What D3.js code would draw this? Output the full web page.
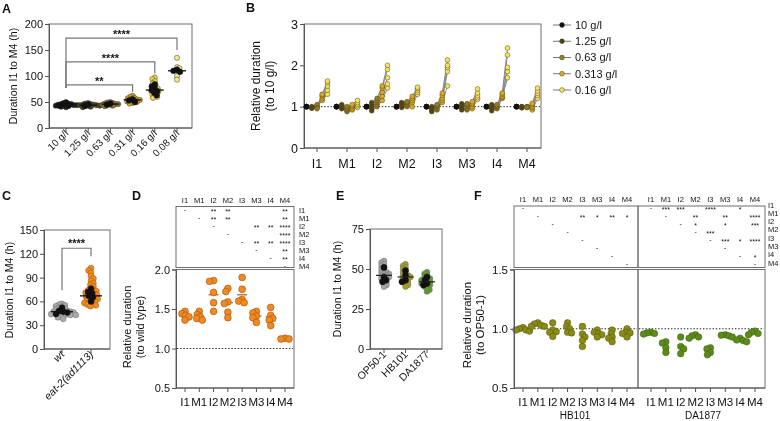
<!DOCTYPE html>
<html><head><meta charset="utf-8">
<script src="https://cdn.jsdelivr.net/npm/d3@7/dist/d3.min.js"></script>
<style>
html,body{margin:0;padding:0;background:#fff;}
svg{opacity:0.999;will-change:transform;}
svg text{font-family:"Liberation Sans",Arial,Helvetica,sans-serif;fill:#111;-webkit-font-smoothing:antialiased;}
</style></head><body>
<svg id="fig" width="780" height="421"></svg>
<script>
// ================= DATA =================
// Panel A
const concA = ["10 g/l","1.25 g/l","0.63 g/l","0.31 g/l","0.16 g/l","0.08 g/l"];
const durA = [
  [40,41,42,43,43,44,44,45,45,46,46,47,48,50],
  [40,41,42,43,43,44,44,45,45,46,47,48],
  [42,43,44,45,45,46,46,47,48,49,50],
  [47,48,50,51,52,53,54,55,56,57,58,60,62],
  [58,60,62,64,66,68,70,71,72,74,76,78,80,83,86,90,94,97],
  [93,100,108,112,115,117,135]
];
const repA = [[43,44,46,48],[43,45],[45,47],[50,53,55],[63,68,71,73,76,80,84],[108,110,112]];
const medA = [45,44,46,54,73,110];
const sigA = [["0.08 g/l","****"],["0.16 g/l","****"],["0.31 g/l","**"]];

// Panel B
const stages = ["I1","M1","I2","M2","I3","M3","I4","M4"];
const concB = ["10 g/l","1.25 g/l","0.63 g/l","0.313 g/l","0.16 g/l"];
const relB = [
  [[1,0.97,1.00,1.15,1.30],[1,0.98,1.02,1.20,1.40],[1,1.00,1.05,1.25,1.50],[1,0.96,0.97,1.28,1.58],[1,0.99,0.95,1.30,1.62]],
  [[1,1.05,0.88,0.92,0.98],[1,1.00,0.90,0.95,1.02],[1,0.97,0.93,1.00,1.06],[1,0.95,0.97,1.02,1.10],[1,1.02,1.00,1.05,1.15]],
  [[1,0.90,1.00,1.15,1.45],[1,0.95,1.05,1.25,1.55],[1,1.00,1.10,1.35,1.70],[1,1.05,1.15,1.45,1.90],[1,1.10,1.20,1.50,2.00]],
  [[1,0.98,1.00,1.00,1.30],[1,1.02,1.03,1.10,1.35],[1,1.05,1.07,1.15,1.40],[1,1.08,1.10,1.20,1.44],[1,1.10,1.12,1.25,1.47]],
  [[1,0.88,0.92,1.10,1.50],[1,0.92,0.95,1.15,1.85],[1,0.95,1.00,1.20,1.95],[1,0.98,1.02,1.27,2.00],[1,1.00,1.05,1.33,2.13]],
  [[1,0.92,0.92,0.95,1.18],[1,0.96,0.95,1.00,1.22],[1,1.00,1.00,1.05,1.27],[1,1.03,1.04,1.08,1.33],[1,1.07,1.07,1.12,1.43]],
  [[1,0.90,0.95,1.20,1.70],[1,0.95,0.98,1.22,1.85],[1,0.98,1.00,1.25,1.95],[1,1.00,1.03,1.30,2.25],[1,1.05,1.05,1.33,2.42]],
  [[1,0.97,0.98,0.92,1.20],[1,0.98,0.99,0.97,1.27],[1,0.99,1.00,1.00,1.32],[1,1.00,1.00,1.05,1.38],[1,1.00,0.98,1.08,1.45]]
];

// Panel C
const strainsC = ["wt","eat-2(ad1113)"];
const durC = [
  [38,40,41,42,43,43,44,44,45,45,46,46,47,47,48,48,49,50,51,52,53,54,55,56,57],
  [54,55,56,57,58,59,60,61,62,63,64,65,66,67,68,69,70,71,72,73,74,75,77,79,81,83,86,89,92,96,99,102]
];
const repC = [[44,46,47,48,52],[60,65,67,70,72,76]];
const medC = [47,67];
const sigC = "****";

// Panel D
const relD = [
  [1.36,1.40,1.42,1.44,1.47],
  [1.36,1.38,1.40,1.43,1.47],
  [1.47,1.58,1.71,1.85,1.86],
  [1.39,1.46,1.57,1.59,1.72,1.76],
  [1.58,1.60,1.62,1.75,1.90],
  [1.33,1.39,1.41,1.45,1.47],
  [1.29,1.36,1.38,1.42,1.52],
  [1.12,1.12,1.13]
];
const meanD = [1.41,1.40,1.68,1.58,1.68,1.41,1.40,1.12];
const sigD = [
  ["I1","I1","-"],["I1","I2","**"],["I1","M2","**"],["I1","M4","**"],
  ["M1","M1","-"],["M1","I2","**"],["M1","M2","**"],["M1","M4","**"],
  ["I2","I2","-"],["I2","M3","**"],["I2","I4","**"],["I2","M4","****"],
  ["M2","M2","-"],["M2","M4","****"],
  ["I3","I3","-"],["I3","M3","**"],["I3","I4","**"],["I3","M4","****"],
  ["M3","M3","-"],["M3","M4","**"],
  ["I4","I4","-"],["I4","M4","**"],
  ["M4","M4","-"]
];

// Panel E
const strainsE = ["OP50-1","HB101","DA1877"];
const durE = [
  [39,40,41,42,43,44,44,45,45,46,46,47,47,48,48,49,50,51,52,53,54,55],
  [39,40,41,42,43,44,44,45,45,46,46,47,48,49,50,51,52,53],
  [36,37,38,39,40,40,41,41,42,42,43,43,44,44,45,46,47,48]
];
const repE = [[42,43,45,51],[42,43,46,49],[40,41,43,45]];
const medE = [46,45,42];

// Panel F
const groupsF = ["HB101","DA1877"];
const relF_HB101 = [
  [1.01,1.00,0.99,0.98,0.99],
  [1.05,1.04,1.03,1.02,1.02],
  [1.05,0.99,0.975,0.97,0.935],
  [1.05,1.02,1.00,0.97,0.965],
  [1.02,0.955,0.93,0.90,0.85],
  [0.99,0.97,0.96,0.95,0.93],
  [0.99,0.96,0.93,0.92,0.89],
  [1.00,0.97,0.965,0.96,0.93]
];
const relF_DA1877 = [
  [0.97,0.965,0.96,0.955],
  [0.89,0.88,0.84,0.80],
  [0.93,0.85,0.83,0.79],
  [0.95,0.94,0.93,0.92],
  [0.84,0.83,0.80,0.78],
  [0.95,0.945,0.94,0.93],
  [0.92,0.905,0.90,0.89],
  [0.98,0.97,0.96,0.95]
];
const sigF_HB101 = [
  ["I1","I1","-"],
  ["M1","M1","-"],["M1","I3","**"],["M1","M3","*"],["M1","I4","**"],["M1","M4","*"],
  ["I2","I2","-"],["M2","M2","-"],["I3","I3","-"],["M3","M3","-"],["I4","I4","-"],["M4","M4","-"]
];
const sigF_DA1877 = [
  ["I1","I1","-"],["I1","M1","***"],["I1","I2","***"],["I1","I3","****"],["I1","I4","*"],
  ["M1","M1","-"],["M1","M2","**"],["M1","M3","**"],["M1","M4","****"],
  ["I2","I2","-"],["I2","M2","*"],["I2","M3","*"],["I2","M4","***"],
  ["M2","M2","-"],["M2","I3","***"],
  ["I3","I3","-"],["I3","M3","***"],["I3","I4","*"],["I3","M4","****"],
  ["M3","M3","-"],
  ["I4","I4","-"],["I4","M4","*"],
  ["M4","M4","-"]
];

// ================= STYLE =================
const AX = "#555";
const FR = "#6f6f6f";
const colA = ["#1b1b1b","#4f4418","#8e7b2c","#d9a927","#f1d84a","#f6e98a"];
const colB = ["#111111","#4f4418","#8e7b2c","#d9a927","#f4e266"];
const colC = ["#a9a9a9","#f08a24"];
const colE = ["#a3a3a3","#a39c22","#5c9a28"];
const colF = ["#8c8a16","#5a8c1c"];
const ORANGE = "#f08a24";

const svg = d3.select("#fig");

// ================= HELPERS =================
function swarm(vals, y, cx, sep, step) {
  const pts = vals.map(v => ({v, y: y(v)})).sort((a,b) => a.y - b.y);
  const placed = [];
  pts.forEach((p, i) => {
    let off = 0;
    outer: for (let k = 0; k < 80; k++) {
      const s = (i % 2 === 0) ? 1 : -1;
      const cands = k === 0 ? [0] : [s*k*step, -s*k*step];
      for (const o of cands) {
        if (placed.every(q => (q.x-(cx+o))**2 + (q.y-p.y)**2 >= sep*sep)) { off = o; break outer; }
      }
    }
    p.x = cx + off; placed.push(p);
  });
  return pts;
}
function drawDots(g, pts, r, fill, stroke, sw) {
  g.selectAll(null).data(pts).enter().append("circle")
    .attr("cx", d => d.x).attr("cy", d => d.y).attr("r", r)
    .attr("fill", fill).attr("stroke", stroke).attr("stroke-width", sw);
}
function frame(g, x0, y0, x1, y1) {
  g.append("rect").attr("x", x0).attr("y", y0).attr("width", x1-x0).attr("height", y1-y0)
    .attr("fill","none").attr("stroke", FR).attr("stroke-width", 1);
}
function yAxis(g, scale, x, ticks, fmt, fs) {
  const a = g.append("g").attr("transform", `translate(${x},0)`)
    .call(d3.axisLeft(scale).tickValues(ticks).tickSize(4).tickPadding(2).tickFormat(fmt));
  a.select(".domain").attr("stroke", AX);
  a.selectAll(".tick line").attr("stroke", AX);
  a.selectAll("text").attr("font-size", fs).attr("fill","#111").attr("font-family", null);
}
function xTicks(g, scale, cats, y, x0, x1) {
  g.append("line").attr("x1", x0).attr("x2", x1).attr("y1", y).attr("y2", y).attr("stroke", AX);
  g.selectAll(null).data(cats).enter().append("line")
    .attr("x1", d => scale(d)).attr("x2", d => scale(d)).attr("y1", y).attr("y2", y+4).attr("stroke", AX);
}
function xLabelsRot(g, scale, cats, y, fs, italicIdx) {
  g.selectAll(null).data(cats).enter().append("text")
    .attr("transform", d => `translate(${scale(d)+3},${y}) rotate(-45)`)
    .attr("text-anchor","end").attr("font-size", fs)
    .attr("font-style", (d,i) => italicIdx && italicIdx.includes(i) ? "italic" : null)
    .text(d => d);
}
function xLabels(g, scale, cats, y, fs) {
  g.selectAll(null).data(cats).enter().append("text")
    .attr("x", d => scale(d)).attr("y", y).attr("text-anchor","middle").attr("font-size", fs).text(d => d);
}
function yTitle(g, lines, x, cy, fs, lh) {
  lines.forEach((t, i) => {
    g.append("text").attr("transform", `translate(${x + i*lh},${cy}) rotate(-90)`)
      .attr("text-anchor","middle").attr("font-size", fs).text(t);
  });
}
function letter(t, x, y) {
  svg.append("text").attr("x", x).attr("y", y).attr("font-size", 12.5).attr("font-weight","bold").text(t);
}
function medLine(g, x, y, w, col, sw) {
  g.append("line").attr("x1", x-w/2).attr("x2", x+w/2).attr("y1", y).attr("y2", y)
    .attr("stroke", col || "#111").attr("stroke-width", sw || 1.3);
}
function dotted(g, x0, x1, y) {
  g.append("line").attr("x1", x0).attr("x2", x1).attr("y1", y).attr("y2", y)
    .attr("stroke","#222").attr("stroke-width",1).attr("stroke-dasharray","1.4,1.8");
}
function matrix(g, sig, colScale, rowScale, fs) {
  g.selectAll(null).data(sig).enter().append("text")
    .attr("x", d => colScale(d[1])).attr("y", d => rowScale(d[0]) + (d[2] === "-" ? 2 : 3.8))
    .attr("text-anchor","middle").attr("font-size", fs).text(d => d[2]);
}

// ================= PANEL A =================
letter("A", 2, 13);
const gA = svg.append("g");
const yA = d3.scaleLinear().domain([0,200]).range([128,24]);
const xA = d3.scalePoint().domain(concA).range([66,177]);
frame(gA, 49, 24, 192, 128);
yAxis(gA, yA, 49, [0,50,100,150,200], d3.format("d"), 11);
xTicks(gA, xA, concA, 128, 49, 192);
xLabelsRot(gA, xA, concA, 134, 10);
yTitle(gA, ["Duration I1 to M4 (h)"], 17, 76, 10.5, 0);
concA.forEach((c, i) => {
  drawDots(gA, swarm(durA[i], yA, xA(c), 2.5, 0.6), 2.6, colA[i], "#333", 0.5);
  drawDots(gA, swarm(repA[i], yA, xA(c), 3.2, 0.6), 2.9, "#111", "#111", 0.4);
  medLine(gA, xA(c), yA(medA[i]), 18, "#111", 1.3);
});
const bracketLvA = [173, 127, 83];
sigA.forEach((s, i) => {
  const x0 = xA(concA[0]), x1 = xA(s[0]), yb = yA(bracketLvA[i]);
  const yEnd = yA(d3.max(durA[concA.indexOf(s[0])])) - 4;
  gA.append("path").attr("d", `M${x0},${yA(77)}V${yb}H${x1}V${Math.min(yEnd, yb+12)}`)
    .attr("fill","none").attr("stroke","#777").attr("stroke-width",1.2);
  gA.append("text").attr("x", (x0+x1)/2).attr("y", yb).attr("text-anchor","middle")
    .attr("font-size", 11).attr("font-weight","bold").text(s[1]);
});

// ================= PANEL B =================
letter("B", 246, 12);
const gB = svg.append("g");
const yB = d3.scaleLinear().domain([0,3]).range([148,24]);
const xB = d3.scalePoint().domain(stages).range([317,527]);
const offB = d3.scalePoint().domain(concB).range([-10.5,10.5]);
frame(gB, 304, 24, 541, 148);
yAxis(gB, yB, 304, [0,1,2,3], d3.format("d"), 12.5);
xTicks(gB, xB, stages, 148, 304, 541);
xLabels(gB, xB, stages, 168, 12.5);
yTitle(gB, ["Relative duration","(to 10 g/l)"], 260, 86, 12, 14);
dotted(gB, 305, 540, yB(1));
const lineB = d3.line().x(d => d[0]).y(d => d[1]);
stages.forEach((s, si) => {
  relB[si].forEach(rep => {
    const pts = rep.map((v, ci) => [xB(s) + offB(concB[ci]), yB(v)]);
    gB.append("path").attr("d", lineB(pts)).attr("fill","none").attr("stroke","#8a8a8a").attr("stroke-width",1);
  });
});
stages.forEach((s, si) => {
  concB.forEach((c, ci) => {
    const pts = relB[si].map(rep => ({x: xB(s) + offB(c), y: yB(rep[ci])}));
    drawDots(gB, pts, 2.4, colB[ci], ci === 0 ? "#111" : "#5a4a10", 0.5);
  });
});
// legend
const gL = svg.append("g");
const yL = d3.scalePoint().domain(concB).range([25,90]);
concB.forEach((c, i) => {
  gL.append("line").attr("x1",553).attr("x2",571).attr("y1",yL(c)).attr("y2",yL(c)).attr("stroke","#777").attr("stroke-width",1);
  gL.append("circle").attr("cx",562).attr("cy",yL(c)).attr("r",2.4).attr("fill",colB[i]).attr("stroke", i===0?"#111":"#5a4a10").attr("stroke-width",0.5);
  gL.append("text").attr("x",575).attr("y",yL(c)).attr("dy","0.35em").attr("font-size",11).text(c);
});

// ================= PANEL C =================
letter("C", 2, 200);
const gC = svg.append("g");
const yC = d3.scaleLinear().domain([0,150]).range([349,230]);
const xC = d3.scalePoint().domain(strainsC).range([62,91]);
frame(gC, 44, 230, 110, 349);
yAxis(gC, yC, 44, [0,30,60,90,120,150], d3.format("d"), 11);
xTicks(gC, xC, strainsC, 349, 44, 110);
xLabelsRot(gC, xC, strainsC, 355, 10.5, [0,1]);
yTitle(gC, ["Duration I1 to M4 (h)"], 13, 290, 10.5, 0);
strainsC.forEach((s, i) => {
  drawDots(gC, swarm(durC[i], yC, xC(s), 3.0, 0.6), 2.9, colC[i], i ? "#b35a00" : "#777", 0.6);
  drawDots(gC, swarm(repC[i], yC, xC(s), 4, 0.6), 3, "#111", "#111", 0.4);
  medLine(gC, xC(s), yC(medC[i]), 22, "#111", 1.3);
});
{
  const x0 = xC(strainsC[0]), x1 = xC(strainsC[1]), yb = yC(127);
  gC.append("path").attr("d", `M${x0},${yC(74)}V${yb}H${x1}V${yC(117)}`)
    .attr("fill","none").attr("stroke","#777").attr("stroke-width",1.2);
  gC.append("text").attr("x",(x0+x1)/2).attr("y",yb-1).attr("text-anchor","middle")
    .attr("font-size",11).attr("font-weight","bold").text(sigC);
}

// ================= PANEL D =================
letter("D", 132, 200);
const gD = svg.append("g");
const yD = d3.scaleLinear().domain([0.5,2.0]).range([388,269.5]);
const xD = d3.scalePoint().domain(stages).range([185,285]);
frame(gD, 176, 269.5, 294, 388);
frame(gD, 176, 206.5, 294, 267.5);
yAxis(gD, yD, 176, [0.5,1.0,1.5,2.0], d3.format(".1f"), 11);
xTicks(gD, xD, stages, 388, 176, 294);
xLabels(gD, xD, stages, 406, 11.5);
yTitle(gD, ["Relative duration","(to wild type)"], 131, 327, 11, 13);
dotted(gD, 177, 293, yD(1));
const rowD = d3.scalePoint().domain(stages).range([210,266]);
xLabels(gD, xD, stages, 203, 7.5);
gD.selectAll(null).data(stages).enter().append("text")
  .attr("x", 299).attr("y", d => rowD(d)).attr("dy","0.35em").attr("font-size",7.5).text(d => d);
matrix(gD, sigD, xD, rowD, 7);
stages.forEach((s, i) => {
  medLine(gD, xD(s), yD(meanD[i]), 10, "#b85a0a", 1.2);
  drawDots(gD, swarm(relD[i], yD, xD(s), 3.6, 0.5), 3.4, ORANGE, "#a35000", 0.6);
});

// ================= PANEL E =================
letter("E", 336, 200);
const gE = svg.append("g");
const yE = d3.scaleLinear().domain([0,75]).range([349,229]);
const xE = d3.scalePoint().domain(strainsE).range([384,427]);
frame(gE, 370, 229, 442, 349);
yAxis(gE, yE, 370, [0,25,50,75], d3.format("d"), 11);
xTicks(gE, xE, strainsE, 349, 370, 442);
xLabelsRot(gE, xE, strainsE, 355, 10.5);
yTitle(gE, ["Duration I1 to M4 (h)"], 341, 289, 10.5, 0);
strainsE.forEach((s, i) => {
  drawDots(gE, swarm(durE[i], yE, xE(s), 2.6, 0.5), 2.9, colE[i], "#777", 0.5);
  drawDots(gE, swarm(repE[i], yE, xE(s), 3.6, 0.5), 3.1, "#111", "#111", 0.4);
  medLine(gE, xE(s), yE(medE[i]), 16, "#222", 1.2);
});

// ================= PANEL F =================
letter("F", 474, 200);
const gF = svg.append("g");
const yF = d3.scaleLinear().domain([0.5,1.5]).range([388,269.5]);
const xFr = [[523,627],[651,755]];
const relF = [relF_HB101, relF_DA1877];
const sigF = [sigF_HB101, sigF_DA1877];
const boundsF = [[514,638],[638,765]];
const rowF = d3.scalePoint().domain(stages).range([208,264]);
const rowLabF = d3.scalePoint().domain(stages).range([205,263]);
groupsF.forEach((grp, gi) => {
  const [bx0, bx1] = boundsF[gi];
  const xF = d3.scalePoint().domain(stages).range(xFr[gi]);
  frame(gF, bx0, 269.5, bx1, 388);
  frame(gF, bx0, 206, bx1, 267.5);
  xTicks(gF, xF, stages, 388, bx0, bx1);
  xLabels(gF, xF, stages, 406, 11.5);
  gF.append("text").attr("x", (xFr[gi][0]+xFr[gi][1])/2).attr("y", 419).attr("text-anchor","middle").attr("font-size",10).text(grp);
  xLabels(gF, xF, stages, 202, 7.5);
  matrix(gF, sigF[gi], xF, rowF, 7);
  dotted(gF, bx0+1, bx1-1, yF(1));
  stages.forEach((s, i) => {
    drawDots(gF, swarm(relF[gi][i], yF, xF(s), 3.6, 0.5), 3.3, colF[gi], "#4a5a10", 0.5);
  });
});
yAxis(gF, yF, 514, [0.5,1.0,1.5], d3.format(".1f"), 11.5);
gF.selectAll(null).data(stages).enter().append("text")
  .attr("x", 768).attr("y", d => rowLabF(d)).attr("dy","0.35em").attr("font-size",7.5).text(d => d);
yTitle(gF, ["Relative duration","(to OP50-1)"], 471, 325, 11.5, 13);
</script>
</body></html>
